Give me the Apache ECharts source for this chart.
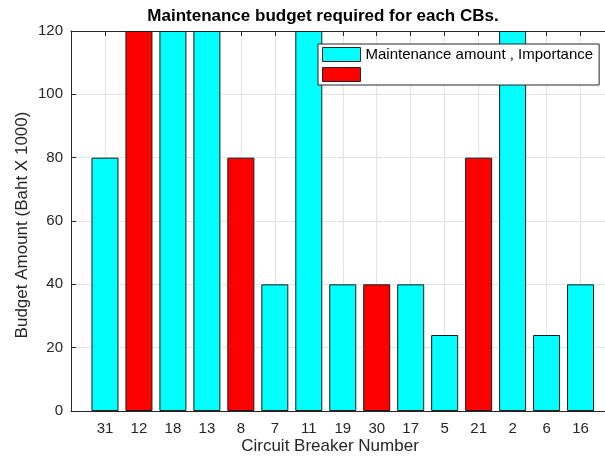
<!DOCTYPE html>
<html>
<head>
<meta charset="utf-8">
<script src="https://cdn.jsdelivr.net/npm/echarts@6/dist/echarts.min.js"></script>
<style>
html,body{margin:0;padding:0;background:#fff;}
#chart{width:605px;height:459px;}
</style>
</head>
<body>
<div id="chart"></div>
<script>
var categories = ['31','12','18','13','8','7','11','19','30','17','5','21','2','6','16'];
var budget = [80,120,120,120,80,40,120,40,40,40,24,80,120,24,40];
var important = [0,1,0,0,1,0,0,0,1,0,0,1,0,0,0];
var yTicks = [0,20,40,60,80,100,120];

var FONT = 'Liberation Sans, Arial, sans-serif';
var normalData = [], importantData = [];
budget.forEach(function(v, i){
  if (important[i]) importantData.push([i + 1, v]);
  else normalData.push([i + 1, v]);
});

var XMAX = 15.72;
var chart = echarts.init(document.getElementById('chart'));
chart.setOption({
  animation: false,
  backgroundColor: '#fff',
  grid: {left: 71, top: 31, right: 0, height: 380, containLabel: false},
  legend: {
    orient: 'vertical', left: 318, top: 44,
    padding: [3, 6, 3, 4], itemWidth: 38, itemHeight: 14, itemGap: 5,
    borderColor: '#262626', borderWidth: 1, backgroundColor: '#fff', borderRadius: 0,
    icon: 'rect',
    itemStyle: {borderColor: '#262626', borderWidth: 1},
    textStyle: {fontSize: 15, color: '#000', fontFamily: FONT, lineHeight: 14},
    data: ['Maintenance amount , Importance', ' ']
  },
  xAxis: [{
    type: 'value', min: 0, max: XMAX, interval: 1,
    axisLine: {lineStyle: {color: '#262626', width: 1}},
    axisTick: {inside: true, length: 5, lineStyle: {color: '#262626'}},
    axisLabel: {
      fontSize: 15, color: '#262626', fontFamily: FONT, margin: 10,
      showMaxLabel: false,
      formatter: function(v){ return categories[v - 1] || ''; }
    },
    splitLine: {show: true, lineStyle: {color: '#e3e3e3', width: 1}}
  }, {
    type: 'value', min: 0, max: XMAX, interval: 1, position: 'top',
    axisLine: {lineStyle: {color: '#262626', width: 1}},
    axisTick: {inside: true, length: 5, lineStyle: {color: '#262626'}},
    axisLabel: {show: false},
    splitLine: {show: false}
  }],
  yAxis: {
    type: 'value', min: 0, max: 120, interval: 20,
    axisLine: {show: true, lineStyle: {color: '#262626', width: 1}},
    axisTick: {show: true, inside: true, length: 5, lineStyle: {color: '#262626'}},
    axisLabel: {fontSize: 15, color: '#262626', fontFamily: FONT, margin: 8,
      formatter: function(v){ return yTicks.indexOf(v) >= 0 ? String(v) : ''; }},
    splitLine: {show: true, lineStyle: {color: '#e3e3e3', width: 1}}
  },
  series: [{
    name: 'Maintenance amount , Importance', type: 'bar', xAxisIndex: 0,
    barWidth: 27, barGap: '-100%',
    itemStyle: {color: '#00ffff', borderColor: '#1a1a1a', borderWidth: 1},
    data: normalData
  }, {
    name: ' ', type: 'bar', xAxisIndex: 0,
    barWidth: 27, barGap: '-100%',
    itemStyle: {color: '#ff0000', borderColor: '#1a1a1a', borderWidth: 1},
    data: importantData
  }],
  graphic: [{
    type: 'text', x: 323, y: 16,
    style: {text: 'Maintenance budget required for each CBs.', font: 'bold 17px ' + FONT,
      fill: '#000', textAlign: 'center', textVerticalAlign: 'middle'}
  }, {
    type: 'text', x: 330, y: 446,
    style: {text: 'Circuit Breaker Number', font: '17px ' + FONT,
      fill: '#262626', textAlign: 'center', textVerticalAlign: 'middle'}
  }, {
    type: 'text', x: 22, y: 225, rotation: Math.PI / 2,
    style: {text: 'Budget Amount (Baht X 1000)', font: '17px ' + FONT,
      fill: '#262626', textAlign: 'center', textVerticalAlign: 'middle'}
  }]
});
</script>
</body>
</html>
